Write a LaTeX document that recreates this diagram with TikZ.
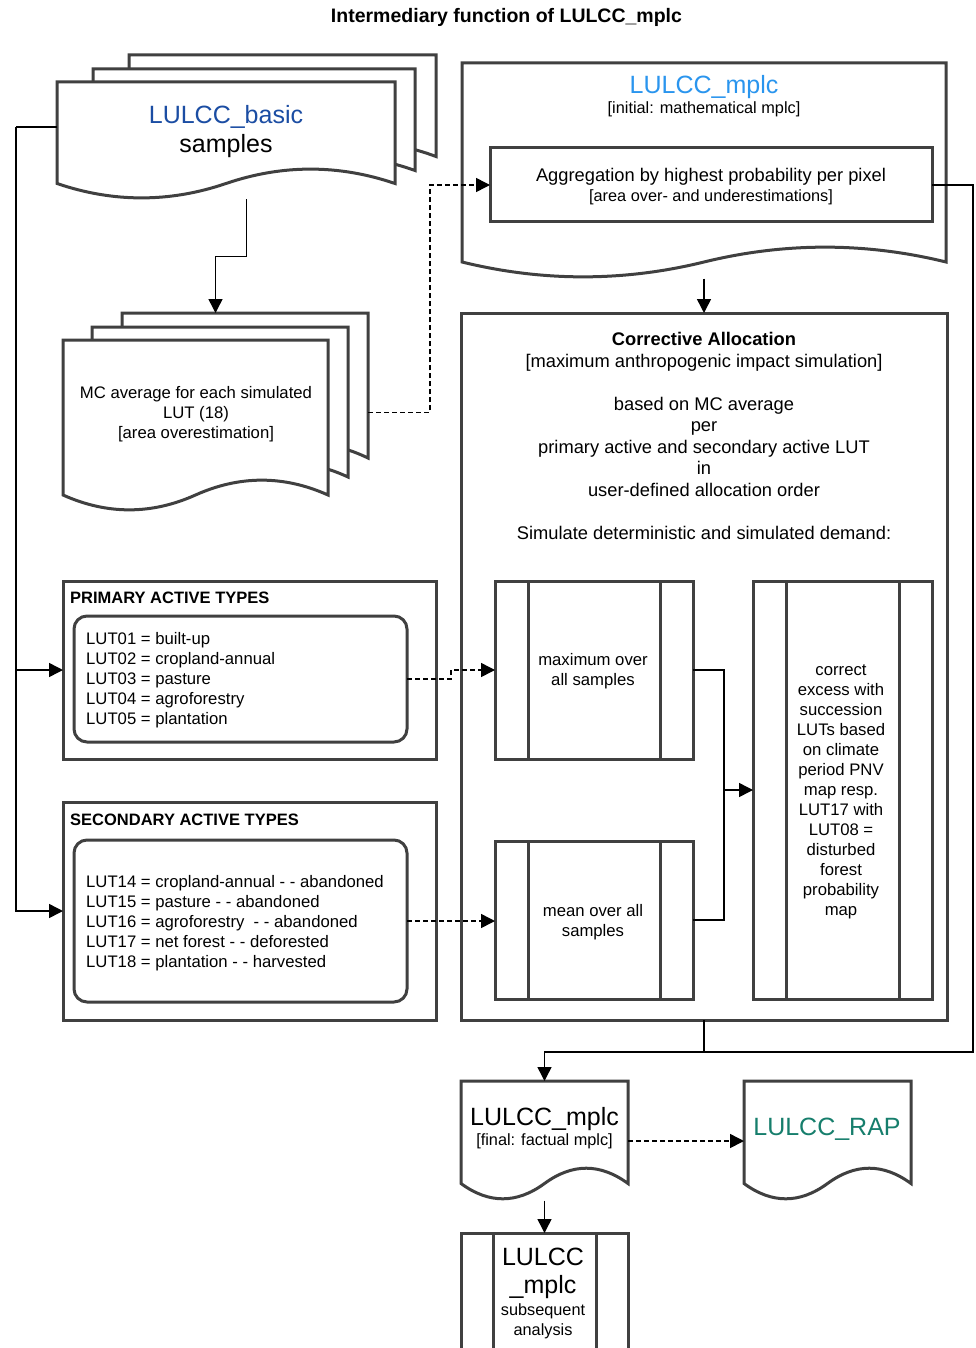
\documentclass[tikz,border=0pt]{standalone}
\usepackage{fontspec}
\setmainfont{Liberation Sans}
\usetikzlibrary{arrows.meta,calc,fit}
\definecolor{shapegray}{HTML}{404040}
\definecolor{basicblue}{HTML}{1B4DA3}
\definecolor{mplcblue}{HTML}{2A95EE}
\definecolor{rapteal}{HTML}{167E6C}
% drawio-like document shape: quadratic waves written as cubic curves
\newcommand{\docshape}[2]{%
  \pgfmathsetmacro{\docA}{0.5*#2}%
  \pgfmathsetmacro{\docB}{1.1*#2}%
  \pgfmathsetmacro{\docC}{-0.1*#2}%
  \draw[shp] (#1.north west) -- (#1.north east) -- ($(#1.south east)+(0pt,\docA pt)$)
    .. controls ($(#1.south east)!1/6!(#1.south west)+(0pt,\docB pt)$) and ($(#1.south east)!1/3!(#1.south west)+(0pt,\docB pt)$) .. ($(#1.south)+(0pt,\docA pt)$)
    .. controls ($(#1.south east)!2/3!(#1.south west)+(0pt,\docC pt)$) and ($(#1.south east)!5/6!(#1.south west)+(0pt,\docC pt)$) .. ($(#1.south west)+(0pt,\docA pt)$) -- cycle;}
\newcommand{\procbars}[2]{%
  \draw[shp] ([xshift=#2pt]#1.north west) -- ([xshift=#2pt]#1.south west);
  \draw[shp] ([xshift=-#2pt]#1.north east) -- ([xshift=-#2pt]#1.south east);}
\begin{document}
\begin{tikzpicture}[x=1pt,y=-1pt,
  phantom/.style={inner sep=0pt, outer sep=0pt},
  shp/.style={draw=shapegray, line width=3pt, fill=white},
  box/.style={shp, inner sep=0pt, outer sep=0pt},
  conn/.style={line width=1.5pt, draw=black},
  tip/.style={-{Triangle[length=14pt,width=14pt]}},
  dashedconn/.style={conn, dash pattern=on 5pt off 3pt},
  txt/.style={font=\fontsize{16.7}{20}\selectfont, align=center, inner sep=0pt},
  midtxt/.style={font=\fontsize{18.3}{21.5}\selectfont, align=center, inner sep=0pt},
  bigtxt/.style={font=\fontsize{25}{28}\selectfont, align=center, inner sep=0pt},
  smalltxt/.style={font=\fontsize{16.3}{20}\selectfont, align=center, inner sep=0pt},
  hdtxt/.style={font=\bfseries\fontsize{16.5}{20}\selectfont, inner sep=0pt, anchor=west}]
\useasboundingbox (0,0) rectangle (975,1348);
\fill[white] (0,0) rectangle (975,1348);

% title
\node[font=\bfseries\fontsize{19.5}{22}\selectfont, inner sep=0pt] (title) at (506.5,17) {Intermediary function of LULCC\_mplc};

% LULCC_basic stack
\node[phantom, minimum width=307pt, minimum height=117.5pt] (bback) at (282.5,113.75) {};
\node[phantom, minimum width=322pt, minimum height=117.5pt] (bmid) at (254,127.75) {};
\node[phantom, minimum width=338pt, minimum height=117.5pt] (bfront) at (226,140.75) {};
\node[phantom, fit=(bback)(bmid)(bfront)] (bstack) {};
\docshape{bback}{32}
\docshape{bmid}{32}
\docshape{bfront}{32}
\node[bigtxt, text=basicblue] (btitle) at (226,117) {LULCC\_basic};
\node[bigtxt] (bsamples) at (226,146) {samples};

% MC stack
\node[phantom, minimum width=246pt, minimum height=161.5pt] (mback) at (245,393.75) {};
\node[phantom, minimum width=256pt, minimum height=166.5pt] (mmid) at (220,410.25) {};
\node[phantom, minimum width=265pt, minimum height=171.5pt] (mfront) at (195.5,425.75) {};
\node[phantom, fit=(mback)(mmid)(mfront)] (mstack) {};
\docshape{mback}{33}
\docshape{mmid}{33}
\docshape{mfront}{33}
\node[txt] (mtext) at (196,414.5) {MC average for each simulated\\LUT (18)\\{[}area overestimation]};

% LULCC_mplc initial
\node[phantom, minimum width=484pt, minimum height=215.5pt] (mplc) at (704,170.75) {};
\docshape{mplc}{33}
\node[bigtxt, text=mplcblue] (mplctitle) at (704,87) {LULCC\_mplc};
\node[smalltxt] (mplcsub) at (704,109) {[initial: mathematical mplc]};
\node[box, minimum width=442pt, minimum height=74pt] (agg) at (711,185) {};
\node[midtxt] (aggt1) at (711,177) {Aggregation by highest probability per pixel};
\node[smalltxt] (aggt2) at (711,197) {[area over- and underestimations]};

% Corrective allocation
\node[box, minimum width=486pt, minimum height=707pt] (corr) at (704,666.5) {};
\node[midtxt] (corrtext) at (704,436) {{\bfseries Corrective Allocation}\\{[}maximum anthropogenic impact simulation]\\[21.5pt]based on MC average\\per\\primary active and secondary active LUT\\in\\user-defined allocation order\\[21.5pt]Simulate deterministic and simulated demand:};

\node[box, minimum width=198pt, minimum height=178pt, txt] (maxbox) at (594,670) {};
\node[txt] (maxtext) at (593,671.5) {maximum over\\all samples};
\procbars{maxbox}{33}
\node[box, minimum width=198pt, minimum height=158pt] (meanbox) at (594,920) {};
\node[txt] (meantext) at (593,922) {mean over all\\samples};
\procbars{meanbox}{33}
\node[box, minimum width=179pt, minimum height=418pt] (correct) at (842.5,790) {};
\procbars{correct}{33}
\node[txt] (correcttext) at (841,791.5) {correct\\excess with\\succession\\LUTs based\\on climate\\period PNV\\map resp.\\LUT17 with\\LUT08 =\\disturbed\\forest\\probability\\map};

% Primary active types
\node[box, minimum width=373pt, minimum height=178pt] (prim) at (249.5,670) {};
\node[hdtxt] (primhd) at (70,598) {PRIMARY ACTIVE TYPES};
\node[box, rounded corners=13pt, minimum width=333pt, minimum height=126pt] (primin) at (240.5,679) {};
\node[txt, align=left, anchor=west] (primlist) at (86,680.5) {LUT01 = built-up\\LUT02 = cropland-annual\\LUT03 = pasture\\LUT04 = agroforestry\\LUT05 = plantation};

% Secondary active types
\node[box, minimum width=373pt, minimum height=218pt] (sec) at (249.5,911) {};
\node[hdtxt] (sechd) at (70,820) {SECONDARY ACTIVE TYPES};
\node[box, rounded corners=13pt, minimum width=333pt, minimum height=162pt] (secin) at (240.5,921) {};
\node[txt, align=left, anchor=west] (seclist) at (86,923) {LUT14 = cropland-annual - - abandoned\\LUT15 = pasture - - abandoned\\LUT16 = agroforestry~ - - abandoned\\LUT17 = net forest - - deforested\\LUT18 = plantation - - harvested};

% final outputs
\node[phantom, minimum width=167pt, minimum height=119.5pt] (final) at (544.5,1140.75) {};
\docshape{final}{34}
\node[bigtxt] (finalt1) at (544.5,1119) {LULCC\_mplc};
\node[smalltxt] (finalt2) at (544.5,1141) {[final: factual mplc]};
\node[phantom, minimum width=167pt, minimum height=119.5pt] (rap) at (827.5,1140.75) {};
\docshape{rap}{34}
\node[bigtxt, text=rapteal] (raptext) at (827,1129) {LULCC\_RAP};
\node[box, minimum width=167pt, minimum height=120pt] (subs) at (544.5,1293) {};
\procbars{subs}{32}
\node[bigtxt] (subst1) at (543,1273) {LULCC\\\_mplc};
\node[smalltxt] (subst2) at (543,1321) {subsequent\\analysis};

% connectors
\coordinate (j1) at (973,1052);
\draw[conn, tip] (bstack.south) -- ++(0,57) -| (mstack.north);
\draw[dashedconn, tip] (mstack.east) -- ++(62,0) |- (agg.west);
\draw[conn] (bstack.west) -- ++(-41,0) coordinate (lj);
\draw[conn, tip] (lj) |- (prim.west);
\draw[conn, tip] (lj) |- (sec.west);
\draw[conn, tip] (mplc.south) -- (corr.north);
\draw[dashedconn, tip] (primin.east) -- ++(44,0) |- (maxbox.west);
\draw[dashedconn, tip] (secin.east) -- (secin.east -| meanbox.west);
\draw[conn, tip] (maxbox.east) -- ++(31,0) coordinate (mx) |- (correct.west);
\draw[conn] (meanbox.east) -| (mx |- correct.west);
\draw[conn, tip] (agg.east) -| (j1) -| (final.north);
\draw[conn] (corr.south) -- (corr.south |- j1);
\draw[dashedconn, tip] (final.east |- finalt2) -- (rap.west |- finalt2);
\draw[conn, tip] (final.south) -- (subs.north);
\end{tikzpicture}
\end{document}
